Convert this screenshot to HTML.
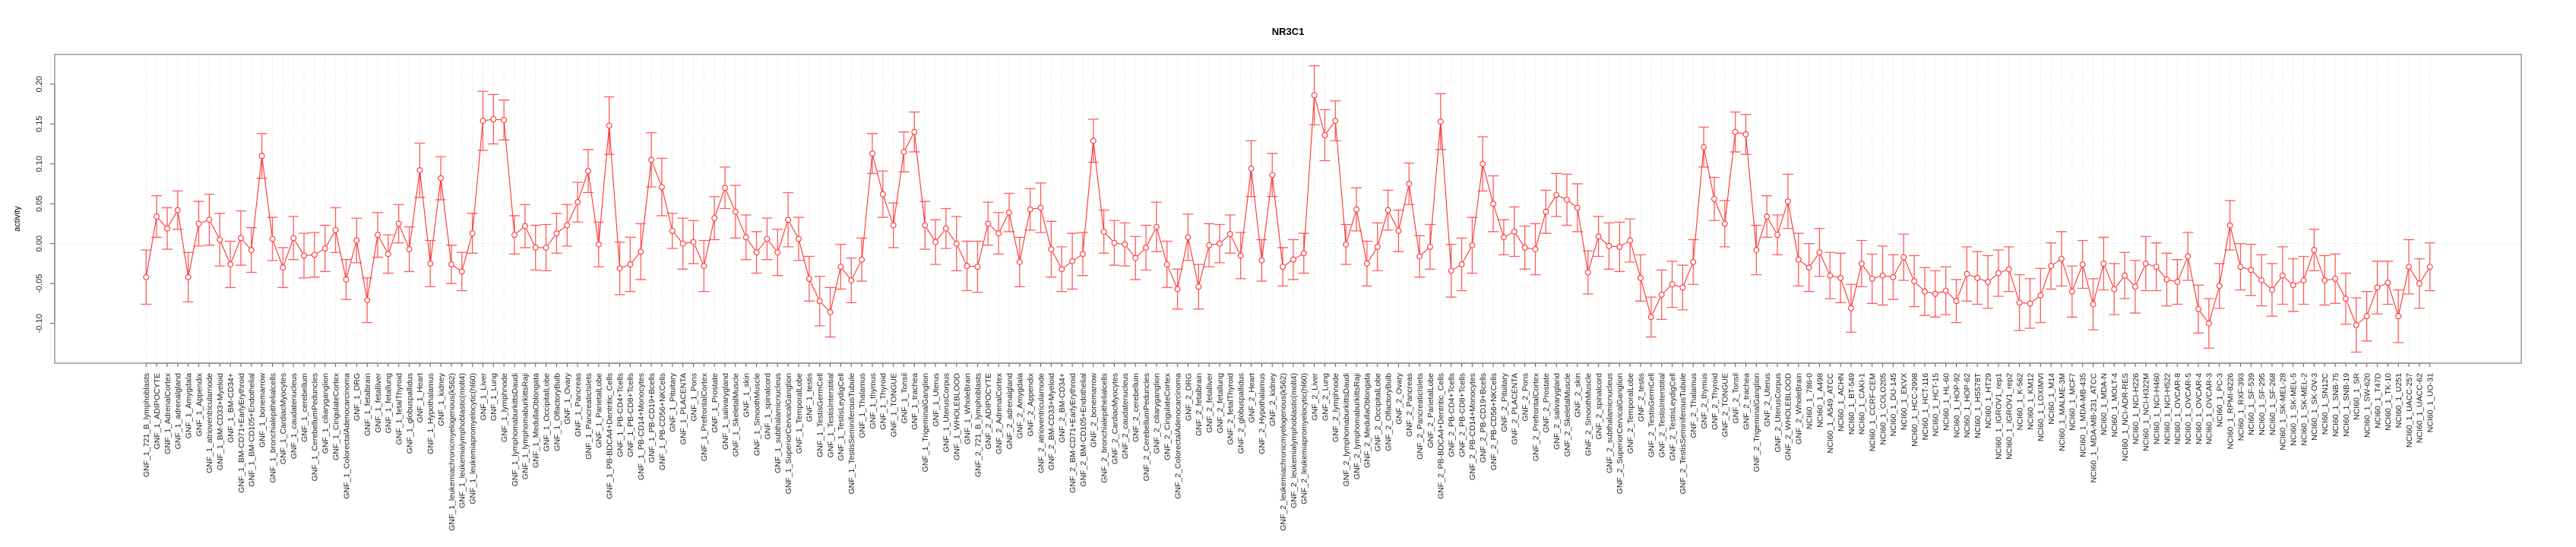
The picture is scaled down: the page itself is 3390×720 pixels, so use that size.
<!DOCTYPE html>
<html><head><meta charset="utf-8"><style>
html,body{margin:0;padding:0;background:#fff;}
svg{display:block;font-family:"Liberation Sans",Arial,sans-serif;}
</style></head><body>
<svg id="chart" width="3390" height="720" viewBox="0 0 3390 720">
<text x="1695" y="46" text-anchor="middle" font-size="13" font-weight="bold">NR3C1</text>
<text transform="translate(26,288) rotate(-90)" text-anchor="middle" font-size="11">activity</text>
<g id="grid"></g>
<g id="yaxis"></g>
<g id="xaxis"></g>
<g id="series"></g>
<rect x="72" y="71.6" width="3246" height="406.4" fill="none" stroke="#999" stroke-width="1.5"/>
</svg>
<script>
const tissues = ["721_B_lymphoblasts","ADIPOCYTE","AdrenalCortex","adrenalgland","Amygdala","Appendix","atrioventricularnode","BM-CD33+Myeloid","BM-CD34+","BM-CD71+EarlyErythroid","BM-CD105+Endothelial","bonemarrow","bronchialepithelialcells","CardiacMyocytes","caudatenucleus","cerebellum","CerebellumPeduncles","ciliaryganglion","CingulateCortex","ColorectalAdenocarcinoma","DRG","fetalbrain","fetalliver","fetallung","fetalThyroid","globuspallidus","Heart","Hypothalamus","kidney","leukemiachronicmyelogenous(k562)","leukemialymphoblastic(molt4)","leukemiapromyelocytic(hl60)","Liver","Lung","lymphnode","lymphomaburkittsDaudi","lymphomaburkittsRaji","MedullaOblongata","OccipitalLobe","OlfactoryBulb","Ovary","Pancreas","PancreaticIslets","ParietalLobe","PB-BDCA4+Dentritic_Cells","PB-CD4+Tcells","PB-CD8+Tcells","PB-CD14+Monocytes","PB-CD19+Bcells","PB-CD56+NKCells","Pituitary","PLACENTA","Pons","PrefrontalCortex","Prostate","salivarygland","SkeletalMuscle","skin","SmoothMuscle","spinalcord","subthalamicnucleus","SuperiorCervicalGanglion","TemporalLobe","testis","TestisGermCell","TestisInterstitial","TestisLeydigCell","TestisSeminiferousTubule","Thalamus","thymus","Thyroid","TONGUE","Tonsil","trachea","TrigeminalGanglion","Uterus","UterusCorpus","WHOLEBLOOD","WholeBrain"];
const nciLines = ["786-0","A498","A549_ATCC","ACHN","BT-549","CAKI-1","CCRF-CEM","COLO205","DU-145","EKVX","HCC-2998","HCT-116","HCT-15","HL-60","HOP-92","HOP-62","HS578T","HT29","IGROV1_rep1","IGROV1_rep2","K-562","KM12","LOXIMVI","M14","MALME-3M","MCF7","MDA-MB-435","MDA-MB-231_ATCC","MDA-N","MOLT-4","NCI-ADR-RES","NCI-H226","NCI-H322M","NCI-H460","NCI-H522","OVCAR-8","OVCAR-5","OVCAR-4","OVCAR-3","PC-3","RPMI-8226","RXF-393","SF-539","SF-295","SF-268","SK-MEL-28","SK-MEL-5","SK-MEL-2","SK-OV-3","SN12C","SNB-75","SNB-19","SR","SW-620","T47D","TK-10","U251","UACC-257","UACC-62","UO-31"];
const categories = tissues.map(t=>"GNF_1_"+t).concat(tissues.map(t=>"GNF_2_"+t)).concat(nciLines.map(t=>"NCI60_1_"+t));
const values = [-0.042,0.034,0.019,0.042,-0.042,0.025,0.030,0.005,-0.026,0.007,-0.008,0.110,0.006,-0.030,0.007,-0.015,-0.014,-0.006,0.017,-0.045,0.004,-0.071,0.011,-0.013,0.025,-0.007,0.092,
-0.025,0.082,-0.026,-0.035,0.013,0.154,0.156,0.155,0.011,0.022,-0.005,-0.005,0.013,0.023,0.052,0.091,-0.001,0.148,-0.031,-0.026,-0.010,0.105,0.071,0.016,0.000,0.002,-0.028,0.032,0.070,0.040,0.008,
-0.011,0.006,-0.011,0.030,0.006,-0.044,-0.072,-0.086,-0.029,-0.046,-0.020,0.113,0.062,0.023,0.115,0.140,0.023,0.002,0.019,0.000,-0.028,-0.029,0.025,0.013,0.039,-0.023,0.043,0.045,-0.007,-0.032,-0.022,-0.013,
0.129,0.015,0.001,-0.001,-0.018,-0.005,0.021,-0.026,-0.057,0.008,-0.054,-0.002,0.000,0.012,-0.015,0.094,-0.021,0.086,-0.029,-0.020,-0.012,0.186,0.136,0.154,-0.001,0.043,-0.025,-0.004,0.042,0.016,0.075,
-0.016,-0.004,0.153,-0.034,-0.026,-0.002,0.100,0.050,0.008,0.015,-0.005,-0.007,0.040,0.061,0.055,0.045,-0.036,0.009,-0.003,-0.004,0.004,-0.043,-0.092,-0.064,-0.051,-0.055,-0.023,0.121,0.056,0.025,0.140,0.137,
-0.008,0.034,0.011,0.053,-0.020,-0.030,-0.011,-0.040,-0.043,-0.081,-0.025,-0.044,-0.040,-0.042,-0.017,-0.047,-0.060,-0.063,-0.059,-0.072,-0.038,-0.043,-0.048,-0.037,-0.032,-0.074,-0.075,-0.065,-0.028,-0.019,-0.060,
-0.026,-0.076,-0.025,-0.057,-0.040,-0.054,-0.025,-0.029,-0.045,-0.048,-0.016,-0.082,-0.100,-0.053,0.023,-0.029,-0.033,-0.046,-0.058,-0.040,-0.052,-0.046,-0.008,-0.046,-0.044,-0.069,-0.102,-0.091,-0.055,-0.049,-0.091,-0.029,-0.050,-0.029];
const errors = [.034,.026,.026,.024,.031,.028,.032,.033,.029,.034,.028,.028,.027,.025,.027,.028,.028,.029,.028,.025,.028,.028,.028,.024,.024,.028,.034,
.029,.027,.024,.024,.025,.037,.031,.025,.024,.027,.028,.029,.025,.026,.025,.027,.028,.036,.033,.034,.035,.034,.036,.022,.032,.027,.032,.027,.026,.033,.028,
.026,.026,.029,.034,.027,.028,.031,.031,.028,.028,.027,.025,.029,.028,.025,.025,.030,.028,.025,.034,.031,.032,.027,.026,.024,.031,.026,.031,.035,.028,.035,.027,
.027,.027,.028,.027,.027,.028,.031,.029,.025,.029,.028,.027,.024,.024,.029,.035,.026,.027,.024,.025,.025,.037,.032,.025,.025,.027,.028,.030,.025,.026,.026,
.026,.028,.035,.033,.033,.035,.034,.035,.022,.031,.027,.032,.027,.027,.032,.030,.027,.025,.029,.031,.027,.029,.025,.031,.029,.028,.028,.025,.027,.029,.025,.025,
.031,.026,.025,.034,.033,.030,.030,.029,.031,.030,.029,.031,.037,.028,.029,.032,.030,.029,.030,.027,.034,.033,.033,.029,.028,.035,.031,.034,.029,.034,.032,
.030,.032,.033,.032,.029,.033,.034,.030,.033,.028,.030,.030,.031,.028,.031,.029,.032,.032,.033,.036,.033,.030,.026,.031,.031,.032,.034,.031,.033,.027,.033,.034,.031,.030];
const yTicks = [-0.10,-0.05,0.00,0.05,0.10,0.15,0.20];
const yTickLabels = ["-0.10","-0.05","0.00","0.05","0.10","0.15","0.20"];

const NS="http://www.w3.org/2000/svg";
const PT=71.6, PB=478, PL=72, PR=3318;
const x0=192.3, step=13.85;
function xScale(i){return x0+i*step;}
function yScale(v){return 320.7 - v*1050;}
function mk(tag,attrs,parent){const e=document.createElementNS(NS,tag);for(const k in attrs)e.setAttribute(k,attrs[k]);parent.appendChild(e);return e;}
const grid=document.getElementById('grid'), yaxis=document.getElementById('yaxis'), xaxis=document.getElementById('xaxis'), series=document.getElementById('series');

categories.forEach((c,i)=>{
  const g=mk('line',{x1:xScale(i),x2:xScale(i),y1:PT,y2:PB,stroke:'#d3d3d3','stroke-width':1,'stroke-dasharray':'1,3'},grid);
  
  
});
const zl=mk('line',{x1:PL,x2:PR,y1:yScale(0),y2:yScale(0),stroke:'#d3d3d3','stroke-width':1,'stroke-dasharray':'1,3'},grid);



const yl=mk('line',{x1:PL,x2:PL,y1:yScale(yTicks[0]),y2:yScale(yTicks[yTicks.length-1]),stroke:'#555','stroke-width':1.5},yaxis);


yTicks.forEach((v,k)=>{
  const y=yScale(v);
  const t=mk('line',{x1:PL-6,x2:PL,y1:y,y2:y,stroke:'#555','stroke-width':1},yaxis);
  
  
  const lb=mk('text',{transform:`translate(${PL-17},${y}) rotate(-90)`,'text-anchor':'middle','font-size':11,fill:'#222'},yaxis);
  lb.textContent=yTickLabels[k];
  
  
});

const xl=mk('line',{x1:xScale(0),x2:xScale(categories.length-1),y1:PB,y2:PB,stroke:'#555','stroke-width':1.5},xaxis);


categories.forEach((c,i)=>{
  const x=xScale(i);
  const t=mk('line',{x1:x,x2:x,y1:PB,y2:PB+5,stroke:'#555','stroke-width':1},xaxis);
  
  
  const lb=mk('text',{transform:`translate(${x+3.8},${PB+13}) rotate(-90)`,'text-anchor':'end','font-size':10.5,fill:'#222'},xaxis);
  lb.textContent=c;
  
  
});

const col='#ff3030';
for(let i=0;i<values.length-1;i++){
  const xa=xScale(i),ya=yScale(values[i]),xb=xScale(i+1),yb=yScale(values[i+1]);
  const dx=xb-xa,dy=yb-ya,L=Math.hypot(dx,dy),g=4;
  if(L>2*g){
    const s=mk('line',{x1:xa+dx*g/L,y1:ya+dy*g/L,x2:xb-dx*g/L,y2:yb-dy*g/L,stroke:col,'stroke-width':1.1},series);
    
    
  }
}
values.forEach((v,i)=>{
  const x=xScale(i),yt=yScale(v+errors[i]),yb=yScale(v-errors[i]);
  const e=mk('path',{d:`M${x},${yt}V${yb}M${x-7},${yt}H${x+7}M${x-7},${yb}H${x+7}`,stroke:'rgba(255,40,40,0.75)','stroke-width':1.3,fill:'none'},series);
  
  
  const p=mk('circle',{cx:x,cy:yScale(v),r:3.4,fill:'#fff',stroke:col,'stroke-width':1.1},series);
  
  
});
</script>
</body></html>
